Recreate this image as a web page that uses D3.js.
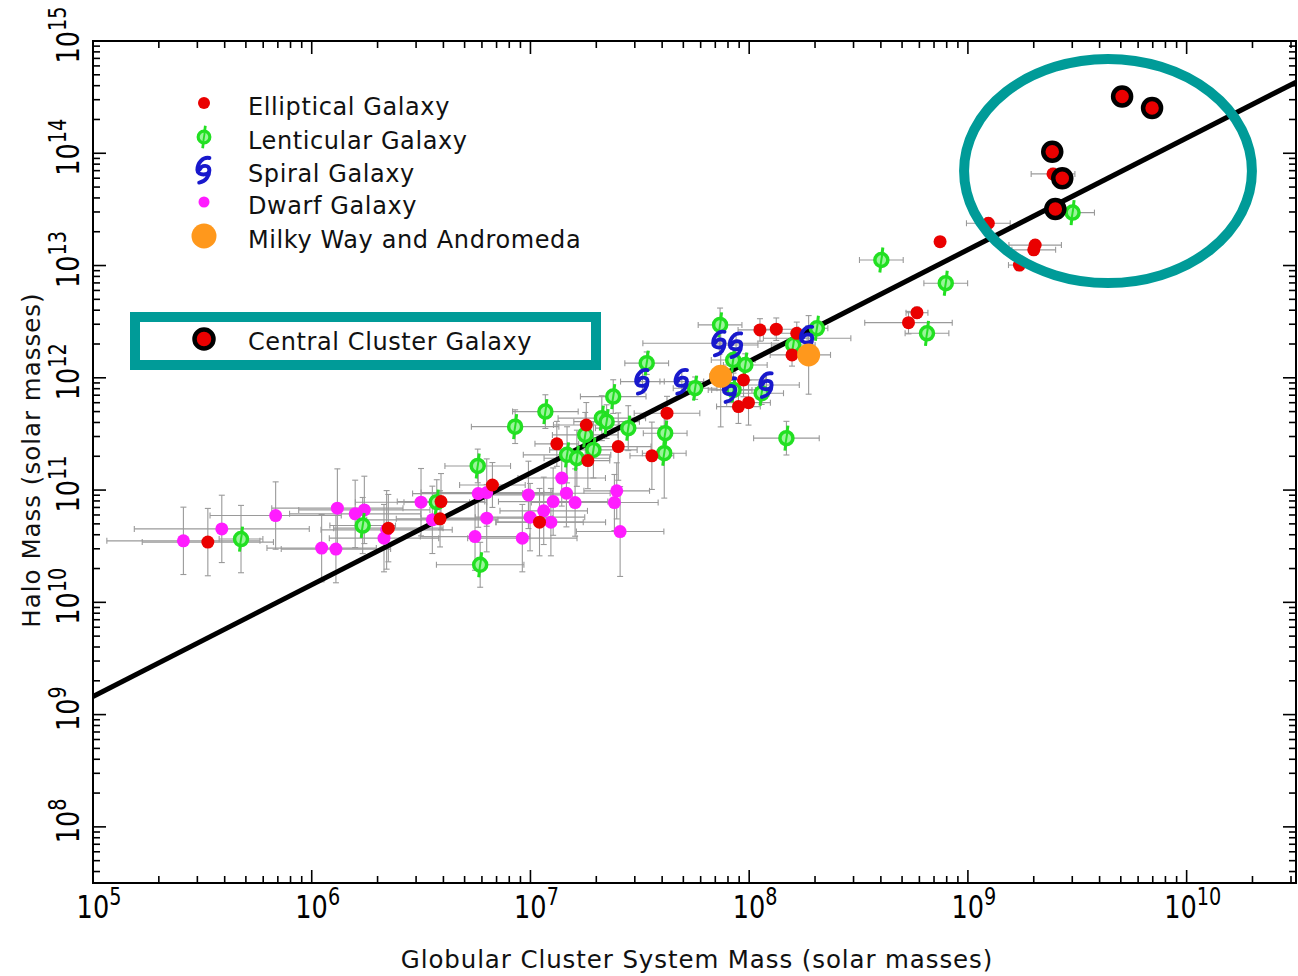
<!DOCTYPE html>
<html><head><meta charset="utf-8">
<script src="https://cdn.jsdelivr.net/npm/d3@7"></script>
<style>body{margin:0;background:#fff} svg{display:block}</style>
</head><body>
<svg id="c" width="1298" height="976"></svg>
<script>
// ---------- DATA (solar masses; errors in dex) ----------
const xTickDecades = [1e5, 1e6, 1e7, 1e8, 1e9, 1e10];
const yTickDecades = [1e8, 1e9, 1e10, 1e11, 1e12, 1e13, 1e14, 1e15];

const ellipticalGC   = [3.35e5,2.24e6,3.90e6,3.86e6,6.70e6,1.10e7,1.32e7,1.80e7,1.83e7,2.52e7,3.59e7,4.21e7,9.42e7,8.93e7,9.93e7,1.12e8,1.33e8,1.65e8,1.57e8,5.35e8,5.85e8,7.46e8,1.24e9,2.03e9,2.00e9,1.72e9,2.45e9];
const ellipticalHalo = [3.44e10,4.58e10,7.89e10,5.54e10,1.11e11,5.18e10,2.58e11,3.80e11,1.83e11,2.44e11,2.02e11,4.84e11,9.58e11,5.54e11,6.01e11,2.67e12,2.71e12,2.49e12,1.60e12,3.10e12,3.80e12,1.63e13,2.38e13,1.52e13,1.38e13,1.01e13,6.55e13];
const ellipticalXErr = [0.30,0.25,0.20,0.20,0.15,0.20,0.10,0.15,0.10,0.15,0.10,0.15,0.10,0.10,0.10,0.10,0.10,0.10,0.10,0.20,0.05,0.00,0.10,0.12,0.10,0.05,0.10];
const ellipticalYErr = [0.30,0.30,0.25,0.25,0.20,0.30,0.20,0.20,0.25,0.30,0.30,0.15,0.15,0.15,0.20,0.10,0.10,0.10,0.10,0.10,0.05,0.00,0.05,0.05,0.05,0.05,0.05];

const lenticularGC   = [4.75e5,1.71e6,3.73e6,5.74e6,5.89e6,8.51e6,1.17e7,1.47e7,1.63e7,1.78e7,1.94e7,2.12e7,2.23e7,2.39e7,2.80e7,3.40e7,4.13e7,4.09e7,5.66e7,7.36e7,8.45e7,9.60e7,8.48e7,1.14e8,1.59e8,2.04e8,1.48e8,4.02e8,7.92e8,6.50e8,3.01e9];
const lenticularHalo = [3.66e10,4.83e10,7.80e10,1.64e11,2.16e10,3.67e11,5.00e11,2.06e11,1.92e11,3.10e11,2.28e11,4.37e11,4.07e11,6.80e11,3.56e11,1.35e12,3.21e11,2.13e11,8.08e11,2.96e12,1.44e12,1.30e12,7.80e11,7.29e11,1.96e12,2.76e12,2.90e11,1.12e13,6.96e12,2.49e12,2.96e13];
const lenticularXErr = [0.10,0.15,0.15,0.15,0.20,0.20,0.15,0.20,0.15,0.15,0.20,0.20,0.15,0.15,0.15,0.10,0.10,0.10,0.10,0.10,0.10,0.10,0.10,0.10,0.10,0.05,0.15,0.10,0.10,0.10,0.10];
const lenticularYErr = [0.30,0.25,0.20,0.15,0.20,0.15,0.15,0.25,0.25,0.20,0.25,0.20,0.15,0.15,0.20,0.10,0.20,0.40,0.10,0.15,0.10,0.10,0.15,0.10,0.10,0.05,0.15,0.05,0.05,0.05,0.05];

const spiralGC   = [3.25e7,4.92e7,7.31e7,8.71e7,8.18e7,1.20e8,1.84e8];
const spiralHalo = [9.25e11,9.25e11,2.03e12,1.96e12,7.80e11,8.64e11,2.25e12];
const spiralXErr = [0.10,0.10,0.35,0.10,0.10,0.15,0.20];
const spiralYErr = [0.10,0.10,0.10,0.10,0.10,0.10,0.05];

const dwarfGC   = [2.59e5,3.88e5,6.84e5,1.11e6,1.29e6,1.31e6,1.58e6,1.74e6,2.20e6,2.14e6,3.16e6,3.56e6,5.77e6,5.58e6,6.31e6,6.31e6,9.18e6,9.79e6,9.96e6,1.15e7,1.24e7,1.27e7,1.39e7,1.46e7,1.60e7,2.48e7,2.42e7,2.57e7];
const dwarfHalo = [3.53e10,4.51e10,5.93e10,3.04e10,2.98e10,6.90e10,6.14e10,6.66e10,4.42e10,3.73e10,7.80e10,5.43e10,9.30e10,3.85e10,9.50e10,5.62e10,3.73e10,9.06e10,5.74e10,6.53e10,5.18e10,7.89e10,1.28e11,9.38e10,7.74e10,9.84e10,7.74e10,4.27e10];
const dwarfXErr = [0.35,0.40,0.30,0.25,0.25,0.30,0.30,0.30,0.30,0.25,0.30,0.30,0.30,0.25,0.30,0.30,0.25,0.20,0.25,0.20,0.25,0.25,0.20,0.20,0.20,0.15,0.20,0.20];
const dwarfYErr = [0.30,0.30,0.30,0.30,0.30,0.35,0.30,0.30,0.35,0.30,0.30,0.30,0.30,0.30,0.30,0.30,0.30,0.30,0.30,0.30,0.30,0.30,0.25,0.30,0.30,0.25,0.25,0.40];

const milkyWayAndromedaGC   = [7.41e7, 1.87e8];
const milkyWayAndromedaHalo = [1.03e12, 1.60e12];
const milkyWayAndromedaXErr = [0.05, 0.10];
const milkyWayAndromedaYErr = [0.45, 0.35];

const centralGC   = [5.07e9, 6.95e9, 2.43e9, 2.70e9, 2.51e9];
const centralHalo = [3.20e14, 2.53e14, 1.03e14, 6.00e13, 3.19e13];

const fitGC   = [1e5, 3.162e10];
const fitHalo = [1.45e9, 4.3e14];

// highlighted region (centre in data units, half-axes in dex)
const highlightCenter = [4.37e9, 6.95e13];
const highlightHalfDex = [0.658, 0.998];

const legendLabels = ["Elliptical Galaxy","Lenticular Galaxy","Spiral Galaxy","Dwarf Galaxy","Milky Way and Andromeda"];
const centralLabel = "Central Cluster Galaxy";
const xTitle = "Globular Cluster System Mass (solar masses)";
const yTitle = "Halo Mass (solar masses)";

// ---------- STYLE ----------
const RED = "#ea0000", GREEN = "#22e022", GREENL = "#9af59a", BLUE = "#1818cc",
      MAG = "#ff1cff", ORANGE = "#ff981c", TEAL = "#009b98", ERR = "#9a9a9a";
const FONT = "DejaVu Sans";

const svg = d3.select("#c");
const L = 93, R = 1296, T = 41, B = 883;
const x = d3.scaleLog().domain([1e5, 3.1623e10]).range([L, R]);
const y = d3.scaleLog().domain([3.1623e7, 1e15]).range([B, T]);

// ---------- error bars ----------
const gErr = svg.append("g").attr("stroke", ERR).attr("stroke-width", 1.1).attr("fill", "none");
function errBars(gc, halo, xe, ye) {
  gc.forEach((v, i) => {
    const px = x(v), py = y(halo[i]);
    if (xe[i] > 0) {
      const x0 = x(v / Math.pow(10, xe[i])), x1 = x(v * Math.pow(10, xe[i]));
      gErr.append("line").attr("x1", x0).attr("x2", x1).attr("y1", py).attr("y2", py);
      gErr.append("line").attr("x1", x0).attr("x2", x0).attr("y1", py-3).attr("y2", py+3);
      gErr.append("line").attr("x1", x1).attr("x2", x1).attr("y1", py-3).attr("y2", py+3);
    }
    if (ye[i] > 0) {
      const y0 = y(halo[i] / Math.pow(10, ye[i])), y1 = y(halo[i] * Math.pow(10, ye[i]));
      gErr.append("line").attr("x1", px).attr("x2", px).attr("y1", y0).attr("y2", y1);
      gErr.append("line").attr("x1", px-3).attr("x2", px+3).attr("y1", y0).attr("y2", y0);
      gErr.append("line").attr("x1", px-3).attr("x2", px+3).attr("y1", y1).attr("y2", y1);
    }
  });
}
errBars(dwarfGC, dwarfHalo, dwarfXErr, dwarfYErr);
errBars(ellipticalGC, ellipticalHalo, ellipticalXErr, ellipticalYErr);
errBars(lenticularGC, lenticularHalo, lenticularXErr, lenticularYErr);
errBars(spiralGC, spiralHalo, spiralXErr, spiralYErr);
errBars(milkyWayAndromedaGC, milkyWayAndromedaHalo, milkyWayAndromedaXErr, milkyWayAndromedaYErr);

// ---------- fit line ----------
svg.append("line")
  .attr("x1", x(fitGC[0])).attr("y1", y(fitHalo[0]))
  .attr("x2", x(fitGC[1])).attr("y2", y(fitHalo[1]))
  .attr("stroke", "#000").attr("stroke-width", 5);

// ---------- symbols ----------
const SPIRAL = "M4.5,-10 C-1,-11 -5.5,-6 -5.5,0 C-5.5,5 4.5,5 4.5,0 C4.5,-4.5 -2,-4.5 -3.5,-0.5 M4.5,0 C4.5,5 1.5,9.5 -4,10.5";
function dot(g, cx, cy, r, fill) { g.append("circle").attr("cx", cx).attr("cy", cy).attr("r", r).attr("fill", fill); }
function lenticular(g, cx, cy, s) {
  const k = g.append("g").attr("transform", `translate(${cx},${cy}) scale(${s})`);
  k.append("line").attr("x1", 1.5).attr("y1", -12.5).attr("x2", -1.5).attr("y2", 12.5).attr("stroke", GREEN).attr("stroke-width", 3);
  k.append("circle").attr("r", 6.5).attr("fill", GREENL).attr("stroke", GREEN).attr("stroke-width", 3.5);
  k.append("line").attr("x1", 0.8).attr("y1", -5).attr("x2", -0.8).attr("y2", 5).attr("stroke", GREEN).attr("stroke-width", 2);
}
function spiral(g, cx, cy, s) {
  g.append("path").attr("d", SPIRAL).attr("transform", `translate(${cx},${cy}) scale(${s})`)
    .attr("fill", "none").attr("stroke", BLUE).attr("stroke-width", 3.3).attr("stroke-linecap", "round");
}
function central(g, cx, cy, r) {
  g.append("circle").attr("cx", cx).attr("cy", cy).attr("r", r).attr("fill", RED).attr("stroke", "#000").attr("stroke-width", 4.5);
}

const gP = svg.append("g");
dwarfGC.forEach((v, i) => dot(gP, x(v), y(dwarfHalo[i]), 6.5, MAG));
lenticularGC.forEach((v, i) => lenticular(gP, x(v), y(lenticularHalo[i]), 1));
ellipticalGC.forEach((v, i) => dot(gP, x(v), y(ellipticalHalo[i]), 6.5, RED));
spiralGC.forEach((v, i) => spiral(gP, x(v), y(spiralHalo[i]), 1.15));
milkyWayAndromedaGC.forEach((v, i) => dot(gP, x(v), y(milkyWayAndromedaHalo[i]), 11.5, ORANGE));
centralGC.forEach((v, i) => central(gP, x(v), y(centralHalo[i]), 9));

// ---------- axes frame & ticks ----------
const gA = svg.append("g").attr("stroke", "#000").attr("fill", "none");
gA.append("rect").attr("x", L).attr("y", T).attr("width", R - L).attr("height", B - T).attr("stroke-width", 2);
function logTicks(d0, d1) {
  const out = [];
  for (let e = Math.floor(Math.log10(d0)); e <= Math.ceil(Math.log10(d1)); e++)
    for (let m = 1; m <= 9; m++) { const v = m * Math.pow(10, e); if (v >= d0 * 0.999 && v <= d1 * 1.001) out.push({v, major: m === 1}); }
  return out;
}
logTicks(...x.domain()).forEach(t => {
  const px = x(t.v), len = t.major ? 13 : 7;
  gA.append("line").attr("x1", px).attr("x2", px).attr("y1", B).attr("y2", B - len).attr("stroke-width", 1.6);
  gA.append("line").attr("x1", px).attr("x2", px).attr("y1", T).attr("y2", T + len).attr("stroke-width", 1.6);
});
logTicks(...y.domain()).forEach(t => {
  const py = y(t.v), len = t.major ? 13 : 7;
  gA.append("line").attr("y1", py).attr("y2", py).attr("x1", L).attr("x2", L + len).attr("stroke-width", 1.6);
  gA.append("line").attr("y1", py).attr("y2", py).attr("x1", R).attr("x2", R - len).attr("stroke-width", 1.6);
});

// ---------- tick labels ----------
function powLabel(g, v) {
  const t = g.append("text").attr("font-family", FONT).attr("font-size", 32).attr("fill", "#000").attr("text-anchor", "middle");
  t.append("tspan").text("10");
  t.append("tspan").attr("font-size", 24).attr("dy", -13).text(Math.round(Math.log10(v)));
}
xTickDecades.forEach(v => {
  const g = svg.append("g").attr("transform", `translate(${x(v) + 6},918) scale(0.8,1)`);
  powLabel(g, v);
});
yTickDecades.forEach(v => {
  const g = svg.append("g").attr("transform", `translate(79,${y(v) - 6}) rotate(-90) scale(0.8,1)`);
  powLabel(g, v);
});

// ---------- axis titles ----------
svg.append("text").attr("x", 697).attr("y", 968).attr("text-anchor", "middle")
  .attr("font-family", FONT).attr("font-size", 24.5).attr("letter-spacing", 0.9).attr("fill", "#111").text(xTitle);
svg.append("text").attr("transform", "translate(40,460) rotate(-90)").attr("text-anchor", "middle")
  .attr("font-family", FONT).attr("font-size", 24.5).attr("letter-spacing", 1).attr("fill", "#111").text(yTitle);

// ---------- legend ----------
const gL = svg.append("g");
const legY = [103, 137, 170, 202, 236];
dot(gL, 204, legY[0], 6, RED);
lenticular(gL, 204, legY[1], 0.9);
spiral(gL, 204, legY[2], 1.2);
dot(gL, 204, legY[3], 5.5, MAG);
dot(gL, 204, legY[4], 12.5, ORANGE);
legendLabels.forEach((s, i) => {
  gL.append("text").attr("x", 248).attr("y", legY[i] + 12).attr("font-family", FONT)
    .attr("font-size", 24).attr("letter-spacing", 0.6).attr("fill", "#111").text(s);
});

// central legend box
gL.append("rect").attr("x", 135).attr("y", 317).attr("width", 461).attr("height", 48)
  .attr("fill", "none").attr("stroke", TEAL).attr("stroke-width", 10);
central(gL, 204, 339, 9.5);
gL.append("text").attr("x", 248).attr("y", 350).attr("font-family", FONT)
  .attr("font-size", 24).attr("letter-spacing", 0.6).attr("fill", "#111").text(centralLabel);

// ---------- highlight ellipse ----------
const ex = x(highlightCenter[0]), ey = y(highlightCenter[1]);
svg.append("ellipse").attr("cx", ex).attr("cy", ey)
  .attr("rx", x(highlightCenter[0] * Math.pow(10, highlightHalfDex[0])) - ex)
  .attr("ry", ey - y(highlightCenter[1] * Math.pow(10, highlightHalfDex[1])))
  .attr("fill", "none").attr("stroke", TEAL).attr("stroke-width", 10);
</script>
</body></html>
